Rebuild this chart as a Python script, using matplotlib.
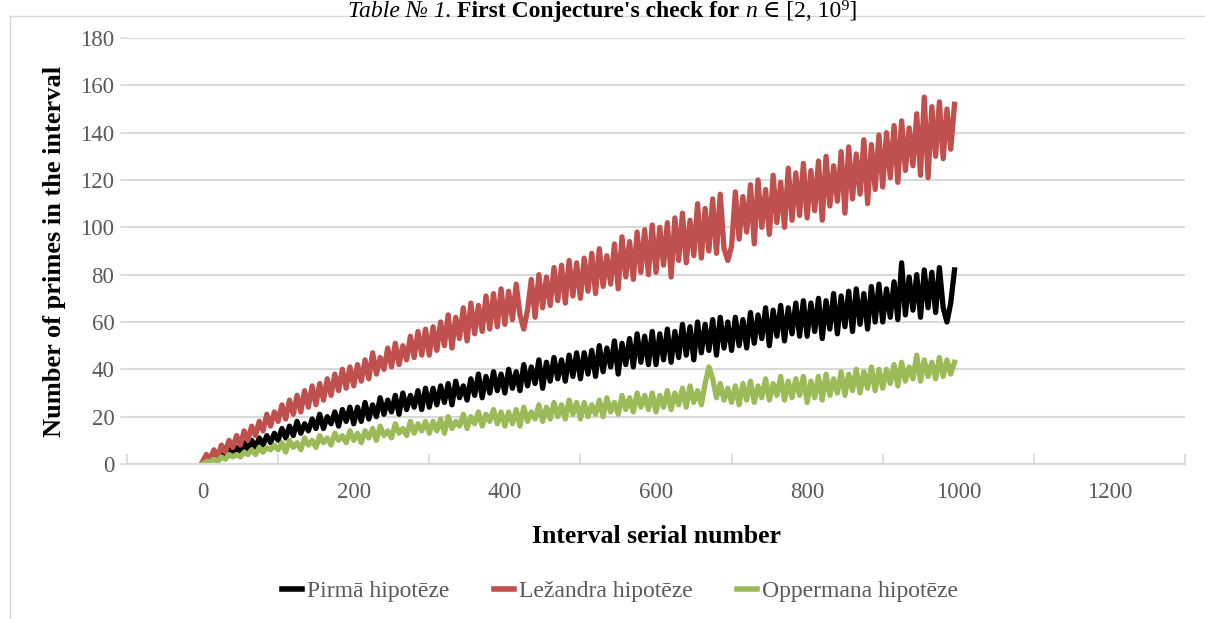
import numpy as np
import matplotlib
matplotlib.use('Agg')
import matplotlib.pyplot as plt
from matplotlib.lines import Line2D

# values, one point every 5 intervals
step = 5
pirma = [
    0, 2, 1, 3, 2, 5, 3, 6, 4, 7, 5, 9, 6, 10, 7, 11, 8, 12, 9, 13,
    10, 15, 11, 16, 12, 18, 13, 17, 14, 19, 15, 21, 15, 20, 17, 22, 16, 23, 18, 24,
    17, 24, 18, 26, 19, 25, 20, 28, 21, 27, 22, 29, 21, 30, 23, 29, 24, 31, 23, 32,
    24, 32, 25, 33, 26, 34, 25, 35, 28, 33, 27, 36, 29, 38, 28, 37, 30, 39, 31, 38,
    30, 40, 32, 39, 31, 42, 33, 41, 34, 44, 32, 43, 35, 45, 36, 44, 35, 46, 37, 47,
    36, 47, 38, 48, 37, 50, 39, 49, 41, 52, 38, 51, 42, 53, 41, 55, 43, 54, 42, 56,
    42, 55, 44, 57, 43, 56, 45, 59, 46, 58, 44, 60, 47, 59, 48, 61, 46, 62, 49, 60,
    48, 62, 50, 61, 49, 64, 51, 63, 53, 66, 50, 65, 54, 67, 52, 66, 55, 68, 54, 69,
    54, 68, 56, 70, 53, 69, 57, 72, 55, 71, 58, 73, 56, 74, 59, 72, 57, 75, 60, 76,
    60, 74, 62, 77, 61, 85, 63, 79, 65, 80, 62, 82, 66, 81, 64, 83, 66, 60, 68, 82,
]
lezandra = [
    1, 4, 2, 6, 3, 8, 5, 10, 7, 12, 8, 14, 10, 16, 12, 18, 14, 21, 16, 22,
    18, 25, 19, 27, 21, 29, 22, 31, 24, 33, 25, 34, 27, 36, 29, 38, 31, 40, 32, 41,
    33, 42, 35, 44, 36, 47, 38, 45, 40, 49, 41, 51, 42, 50, 44, 54, 45, 56, 46, 57,
    46, 58, 48, 60, 50, 63, 49, 62, 53, 66, 52, 68, 55, 67, 56, 71, 57, 72, 58, 74,
    59, 73, 61, 76, 63, 57, 65, 78, 62, 80, 66, 79, 67, 83, 69, 84, 68, 86, 71, 85,
    70, 87, 73, 89, 72, 91, 75, 88, 76, 93, 74, 96, 79, 94, 78, 98, 81, 99, 80, 101,
    81, 100, 84, 102, 79, 104, 86, 106, 85, 103, 88, 110, 87, 108, 90, 112, 89, 114, 91, 86,
    92, 115, 95, 113, 98, 118, 93, 120, 100, 116, 97, 122, 102, 119, 100, 125, 103, 123, 105, 127,
    104, 124, 107, 128, 103, 130, 109, 126, 111, 132, 106, 134, 112, 131, 114, 137, 110, 135, 116, 139,
    117, 140, 121, 143, 119, 145, 124, 142, 126, 148, 122, 155, 121, 151, 130, 153, 129, 150, 133, 152,
]
oppermana = [
    0, 1, 1, 2, 1, 3, 2, 4, 3, 4, 3, 5, 4, 6, 4, 7, 5, 7, 6, 8,
    6, 9, 5, 10, 7, 9, 6, 11, 8, 10, 7, 12, 9, 11, 8, 13, 10, 12, 9, 14,
    10, 13, 9, 14, 11, 15, 10, 16, 12, 14, 11, 17, 13, 15, 12, 18, 13, 17, 14, 18,
    13, 18, 14, 19, 13, 20, 15, 18, 16, 21, 15, 20, 17, 22, 16, 21, 18, 23, 17, 22,
    16, 22, 17, 23, 16, 24, 18, 22, 19, 25, 18, 24, 19, 26, 20, 25, 19, 27, 21, 26,
    19, 26, 20, 25, 21, 27, 20, 28, 22, 26, 21, 29, 23, 28, 22, 30, 24, 29, 23, 30,
    22, 29, 24, 31, 23, 30, 25, 32, 24, 33, 26, 31, 25, 34, 41, 36, 28, 34, 27, 32,
    26, 33, 25, 34, 27, 35, 26, 33, 28, 36, 27, 34, 29, 37, 27, 35, 28, 36, 29, 37,
    26, 35, 28, 37, 27, 38, 29, 36, 30, 39, 29, 38, 31, 40, 30, 39, 32, 41, 31, 40,
    32, 40, 34, 42, 33, 43, 35, 41, 36, 46, 35, 44, 37, 43, 36, 45, 37, 44, 38, 43,
]
x = np.arange(len(pirma)) * step

labels = ['Pirmā hipotēze', 'Ležandra hipotēze', 'Oppermana hipotēze']
colors = ['#000000', '#C0504D', '#9BBB59']
xticks = [0, 200, 400, 600, 800, 1000, 1200]
yticks = [0, 20, 40, 60, 80, 100, 120, 140, 160, 180]

serif = ['Liberation Serif', 'DejaVu Serif']
plt.rcParams['font.family'] = serif
grey_text = '#595959'
grid_c = '#D9D9D9'

fig = plt.figure(figsize=(12.05, 6.19), dpi=100)
ax = fig.add_axes([127 / 1205, 1 - 464 / 619, (1185 - 127) / 1205, (464 - 38) / 619])

for vals, lab, c in zip([pirma, lezandra, oppermana], labels, colors):
    ax.plot(x, vals, color=c, lw=3.8, label=lab, solid_joinstyle='round')

ax.set_xlim(-100, 1300)
ax.set_ylim(0, 180)
ax.set_yticks(yticks)
ax.set_xticks(xticks)
ax.set_xticks(np.arange(-100, 1301, 200), minor=True)
ax.tick_params(axis='x', which='major', length=0, pad=13, labelsize=16.5, labelcolor=grey_text)
ax.tick_params(axis='x', which='minor', direction='in', length=7, width=1.2, color=grid_c)
ax.tick_params(axis='y', length=5, width=1.2, color=grid_c, pad=4, labelsize=16.5, labelcolor=grey_text)
ax.grid(axis='y', color=grid_c, lw=1.5)
ax.set_axisbelow(True)
for s in ['top', 'right', 'left']:
    ax.spines[s].set_visible(False)
ax.spines['bottom'].set_color(grid_c)
ax.spines['bottom'].set_linewidth(1.5)

ax.set_xlabel('Interval serial number', fontsize=18.5, fontweight='bold', labelpad=16)
ax.set_ylabel('Number of primes in the interval', fontsize=19, fontweight='bold', labelpad=10)

leg = fig.legend(loc='center', bbox_to_anchor=(0.5145, 1 - 591 / 619), ncol=3, frameon=False,
                 fontsize=17, handlelength=0.85, handletextpad=0.2, columnspacing=1.9)
for t in leg.get_texts():
    t.set_color(grey_text)
for h in leg.get_lines():
    h.set_linewidth(4)

# chart border (top and left edges visible)
fig.add_artist(Line2D([10 / 1205, 1], [1 - 16 / 619, 1 - 16 / 619], color='#D9D9D9', lw=1))
fig.add_artist(Line2D([10 / 1205, 10 / 1205], [0, 1 - 16 / 619], color='#D9D9D9', lw=1))

# caption above the chart
parts = [('Table № 1. ', 'italic', 'normal'),
         ("First Conjecture's check for ", 'normal', 'bold'),
         ('n', 'italic', 'normal'),
         (' ∈ [2, 10⁹]', 'normal', 'normal')]
fig.canvas.draw()
r = fig.canvas.get_renderer()
texts = []
xpos = 0
for s, st, wt in parts:
    t = fig.text(xpos, 1 - 17 / 619, s, fontsize=17, style=st, fontweight=wt, va='baseline')
    w = t.get_window_extent(r).width / fig.bbox.width
    texts.append((t, w))
    xpos += w
x0 = 0.5 - xpos / 2
for t, w in texts:
    t.set_x(x0)
    x0 += w

fig.savefig('out.png', dpi=100)
